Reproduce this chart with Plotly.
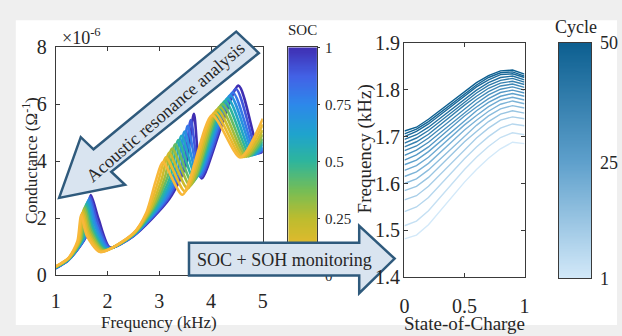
import plotly.graph_objects as go
from plotly.colors import sample_colorscale

W, H = 622, 336
def fx(p): return p / W
def fy(p): return 1 - p / H

FONT = "Times New Roman, Liberation Serif, DejaVu Serif, serif"
TXT = "#262626"

# ---------------- left panel: conductance (x1e-6 S) vs frequency (kHz) ----------------
SOC_LEVELS = [0.0, 0.1, 0.2, 0.3, 0.4, 0.5, 0.6, 0.7, 0.8, 0.9, 1.0]
START_F, EARLY_F, MID_F, END_F = 1.0, 1.25, 2.5, 5.0
START_V = [0.32, 0.31, 0.30, 0.30, 0.29, 0.28, 0.28, 0.27, 0.26, 0.26, 0.25]
EARLY_V = [0.62, 0.61, 0.60, 0.59, 0.58, 0.57, 0.56, 0.56, 0.55, 0.55, 0.54]
PRE1_F = [1.42, 1.44, 1.46, 1.48, 1.50, 1.52, 1.54, 1.56, 1.58, 1.595, 1.61]
PRE1_V = [1.20, 1.20, 1.22, 1.25, 1.28, 1.30, 1.33, 1.36, 1.40, 1.42, 1.45]
PK1_F = [1.49, 1.51, 1.53, 1.55, 1.57, 1.59, 1.61, 1.63, 1.65, 1.665, 1.68]
PK1_V = [2.13, 2.20, 2.27, 2.35, 2.42, 2.50, 2.57, 2.64, 2.70, 2.76, 2.82]
POST1_F = [1.60, 1.62, 1.64, 1.66, 1.68, 1.70, 1.72, 1.75, 1.77, 1.80, 1.83]
POST1_V = [1.40, 1.45, 1.50, 1.56, 1.62, 1.68, 1.74, 1.80, 1.86, 1.91, 1.97]
MN1_F = [1.86, 1.88, 1.90, 1.92, 1.94, 1.96, 1.98, 2.00, 2.02, 2.04, 2.05]
MN1_V = [0.82, 0.84, 0.86, 0.88, 0.90, 0.91, 0.93, 0.94, 0.96, 0.97, 0.98]
MID_V = [1.48, 1.47, 1.46, 1.45, 1.44, 1.43, 1.42, 1.41, 1.40, 1.39, 1.38]
RISE2A_F = [2.75, 2.78, 2.82, 2.86, 2.90, 2.95, 3.00, 3.05, 3.10, 3.15, 3.20]
RISE2A_V = [2.20, 2.25, 2.30, 2.35, 2.40, 2.45, 2.50, 2.55, 2.60, 2.65, 2.70]
RISE2B_F = [2.93, 2.99, 3.05, 3.11, 3.17, 3.23, 3.29, 3.35, 3.41, 3.47, 3.52]
RISE2B_V = [3.30, 3.35, 3.40, 3.45, 3.50, 3.55, 3.60, 3.65, 3.70, 3.80, 3.90]
PK2_F = [3.07, 3.13, 3.19, 3.25, 3.31, 3.37, 3.43, 3.49, 3.55, 3.61, 3.67]
PK2_V = [3.98, 4.15, 4.30, 4.45, 4.60, 4.75, 4.90, 5.05, 5.25, 5.45, 5.67]
MN2_F = [3.45, 3.50, 3.55, 3.60, 3.64, 3.68, 3.72, 3.75, 3.78, 3.80, 3.82]
MN2_V = [2.83, 2.95, 3.05, 3.15, 3.25, 3.35, 3.45, 3.50, 3.50, 3.45, 3.40]
PK3_F = [4.02, 4.07, 4.12, 4.17, 4.22, 4.27, 4.32, 4.37, 4.42, 4.48, 4.53]
PK3_V = [5.62, 5.72, 5.82, 5.92, 6.02, 6.12, 6.22, 6.32, 6.42, 6.54, 6.66]
MN3_F = [4.56, 4.60, 4.64, 4.68, 4.72, 4.76, 4.80, 4.84, 4.87, 4.90, 4.93]
MN3_V = [4.14, 4.15, 4.16, 4.17, 4.18, 4.20, 4.22, 4.24, 4.26, 4.28, 4.30]
END_V = [5.50, 5.30, 5.10, 4.95, 4.80, 4.70, 4.60, 4.50, 4.45, 4.40, 4.35]

X1_TICKS = [1, 2, 3, 4, 5]
Y1_TICKS = [0, 2, 4, 6, 8]

SOC_COLORSCALE = [[0.0, "#f8b83a"], [0.12, "#e6b92c"], [0.25, "#bcbc2e"], [0.37, "#76bd55"],
                  [0.5, "#2eb59c"], [0.62, "#1fa3cd"], [0.75, "#2d88ea"], [0.87, "#4262e6"],
                  [1.0, "#3f2eb2"]]
SOC_CB_TICKS = [0, 0.25, 0.5, 0.75, 1]
SOC_CB_TEXT = ["0", "0.25", "0.5", "0.75", "1"]

# ---------------- right panel: resonance frequency (kHz) vs SOC per cycle ----------------
SOC_GRID = [0.0, 0.1, 0.2, 0.3, 0.4, 0.5, 0.6, 0.7, 0.8, 0.9, 1.0]
CYCLES = [1, 4, 7, 10, 13, 16, 19, 22, 25, 28, 31, 34, 37, 40, 43, 46, 48, 50]
FREQ_CURVES = [
    [1.482, 1.490, 1.512, 1.542, 1.573, 1.603, 1.630, 1.654, 1.674, 1.688, 1.685],
    [1.510, 1.520, 1.542, 1.571, 1.601, 1.630, 1.656, 1.679, 1.698, 1.708, 1.704],
    [1.540, 1.550, 1.570, 1.598, 1.626, 1.653, 1.678, 1.700, 1.718, 1.727, 1.723],
    [1.565, 1.574, 1.594, 1.620, 1.647, 1.673, 1.697, 1.718, 1.735, 1.742, 1.738],
    [1.585, 1.594, 1.613, 1.638, 1.664, 1.689, 1.711, 1.732, 1.748, 1.755, 1.750],
    [1.600, 1.610, 1.629, 1.653, 1.678, 1.702, 1.724, 1.744, 1.759, 1.766, 1.761],
    [1.615, 1.625, 1.643, 1.667, 1.691, 1.714, 1.735, 1.754, 1.769, 1.776, 1.770],
    [1.628, 1.638, 1.656, 1.679, 1.702, 1.725, 1.745, 1.764, 1.778, 1.784, 1.778],
    [1.640, 1.650, 1.668, 1.690, 1.713, 1.735, 1.755, 1.773, 1.786, 1.792, 1.786],
    [1.650, 1.661, 1.678, 1.700, 1.722, 1.744, 1.763, 1.781, 1.794, 1.799, 1.793],
    [1.660, 1.671, 1.688, 1.709, 1.731, 1.752, 1.771, 1.789, 1.801, 1.806, 1.799],
    [1.670, 1.680, 1.697, 1.718, 1.739, 1.760, 1.779, 1.796, 1.808, 1.812, 1.805],
    [1.678, 1.689, 1.705, 1.726, 1.747, 1.767, 1.786, 1.803, 1.814, 1.818, 1.811],
    [1.686, 1.697, 1.713, 1.733, 1.754, 1.774, 1.793, 1.809, 1.820, 1.824, 1.816],
    [1.694, 1.704, 1.720, 1.740, 1.761, 1.781, 1.799, 1.815, 1.826, 1.829, 1.821],
    [1.700, 1.711, 1.727, 1.747, 1.767, 1.787, 1.806, 1.821, 1.832, 1.834, 1.826],
    [1.706, 1.716, 1.732, 1.752, 1.772, 1.792, 1.810, 1.826, 1.836, 1.838, 1.829],
    [1.712, 1.720, 1.737, 1.757, 1.777, 1.797, 1.815, 1.830, 1.840, 1.842, 1.833],
]
X2_TICKS = [0, 0.5, 1]
X2_TEXT = ["0", "0.5", "1"]
Y2_TICKS = [1.4, 1.5, 1.6, 1.7, 1.8, 1.9]
CYCLE_COLORSCALE = [[0.0, "#d3e9f9"], [0.5, "#5d9fcb"], [1.0, "#0c5f90"]]
CYC_CB_TICKS = [1, 25, 50]

fig = go.Figure()

# left curves (SOC=1 first, SOC=0 last on top)
for i in reversed(range(len(SOC_LEVELS))):
    xs = [START_F, EARLY_F, PRE1_F[i], PK1_F[i], POST1_F[i], MN1_F[i], MID_F,
          RISE2A_F[i], RISE2B_F[i], PK2_F[i], MN2_F[i], PK3_F[i], MN3_F[i], END_F]
    ys = [START_V[i], EARLY_V[i], PRE1_V[i], PK1_V[i], POST1_V[i], MN1_V[i], MID_V[i],
          RISE2A_V[i], RISE2B_V[i], PK2_V[i], MN2_V[i], PK3_V[i], MN3_V[i], END_V[i]]
    col = sample_colorscale(SOC_COLORSCALE, [SOC_LEVELS[i]])[0]
    fig.add_trace(go.Scatter(x=xs, y=ys, mode="lines", xaxis="x", yaxis="y",
                             line=dict(color=col, width=2.6, shape="spline", smoothing=0.7),
                             showlegend=False, hoverinfo="skip"))

# right curves
for c, ys in zip(CYCLES, FREQ_CURVES):
    col = sample_colorscale(CYCLE_COLORSCALE, [(c - 1) / 49])[0]
    fig.add_trace(go.Scatter(x=SOC_GRID, y=ys, mode="lines", xaxis="x2", yaxis="y2",
                             line=dict(color=col, width=1.4),
                             showlegend=False, hoverinfo="skip"))

# colorbar gradients as heatmaps (so the arrow can cover them)
grad_soc = [k / 200 for k in range(201)]
fig.add_trace(go.Heatmap(z=[[v, v] for v in grad_soc], x=[0, 1], y=grad_soc,
                         colorscale=SOC_COLORSCALE, zmin=0, zmax=1, showscale=False,
                         xaxis="x3", yaxis="y3", hoverinfo="skip"))
grad_cyc = [1 + 49 * k / 200 for k in range(201)]
fig.add_trace(go.Heatmap(z=[[v, v] for v in grad_cyc], x=[0, 1], y=grad_cyc,
                         colorscale=CYCLE_COLORSCALE, zmin=1, zmax=50, showscale=False,
                         xaxis="x4", yaxis="y4", hoverinfo="skip"))

LINE = "#3a3a3a"
ax_common = dict(showline=True, linecolor=LINE, linewidth=1, mirror="ticks", ticks="inside",
                 ticklen=4, tickcolor=LINE, showgrid=False, zeroline=False,
                 tickfont=dict(family=FONT, size=20, color=TXT))
ax_nofont = {k: v for k, v in ax_common.items() if k != "tickfont"}

fig.update_layout(
    width=W, height=H, margin=dict(l=0, r=0, t=0, b=0),
    paper_bgcolor="#efefef", plot_bgcolor="white",
    font=dict(family=FONT, color=TXT),
    xaxis=dict(domain=[fx(51.5), fx(262)], range=[1, 5], tickvals=X1_TICKS, anchor="y",
               ticklabelstandoff=8, **ax_common),
    yaxis=dict(domain=[fy(283), fy(39)], range=[0, 8], tickvals=Y1_TICKS, anchor="x",
               ticklabelstandoff=4, **ax_common),
    xaxis2=dict(domain=[fx(406), fx(528)], range=[0, 1], tickvals=X2_TICKS, ticktext=X2_TEXT,
                anchor="y2", ticklabelstandoff=11, **ax_common),
    yaxis2=dict(domain=[fy(285), fy(34)], range=[1.4, 1.9], tickvals=Y2_TICKS, anchor="x2",
                showticklabels=False, **ax_nofont),
    xaxis3=dict(domain=[fx(288), fx(317)], range=[0, 1], anchor="y3", showticklabels=False,
                ticks="", showline=True, mirror=True, linecolor=LINE, linewidth=1,
                showgrid=False, zeroline=False),
    yaxis3=dict(domain=[fy(283), fy(39)], range=[0, 1], anchor="x3", side="right",
                tickvals=SOC_CB_TICKS, ticktext=SOC_CB_TEXT, ticks="outside", ticklen=2,
                tickcolor=LINE, showline=True, mirror=True, linecolor=LINE, linewidth=1,
                showgrid=False, zeroline=False, ticklabelstandoff=2,
                tickfont=dict(family=FONT, size=15, color=TXT)),
    xaxis4=dict(domain=[fx(563), fx(596)], range=[0, 1], anchor="y4", showticklabels=False,
                ticks="", showline=True, mirror=True, linecolor=LINE, linewidth=1,
                showgrid=False, zeroline=False),
    yaxis4=dict(domain=[fy(286), fy(34)], range=[1, 50], anchor="x4", side="right",
                tickvals=CYC_CB_TICKS, ticks="", showline=True, mirror=True, linecolor=LINE,
                linewidth=1, showgrid=False, zeroline=False, ticklabelstandoff=4,
                tickfont=dict(family=FONT, size=18, color=TXT)),
)

# background panel
shapes = [dict(type="rect", xref="paper", yref="paper", x0=fx(11), x1=1, y0=0, y1=fy(10),
               fillcolor="white", line=dict(width=0), layer="below")]

def poly(points):
    return "M " + " L ".join(f"{fx(a):.5f},{fy(b):.5f}" for a, b in points) + " Z"

ARROW_FILL = "#d9e4f0"
ARROW_LINE = "#2f5a7c"
arrow1 = [(55, 200), (77, 135), (90, 148), (235, 22), (258, 45), (108, 172), (122, 186)]
arrow2 = [(187, 248), (360, 248), (360, 230), (396, 265), (360, 302), (360, 283), (187, 283)]
for pts in (arrow1, arrow2):
    shapes.append(dict(type="path", xref="paper", yref="paper", path=poly(pts),
                       fillcolor=ARROW_FILL, line=dict(color=ARROW_LINE, width=2.5),
                       layer="above"))
fig.update_layout(shapes=shapes)

ann = []
def label(x, y, text, size, angle=0, xanchor="center", yanchor="middle", yref="paper", yval=None):
    ann.append(dict(x=fx(x), y=(fy(y) if yval is None else yval), xref="paper", yref=yref,
                    text=text, showarrow=False, textangle=angle, xanchor=xanchor,
                    yanchor=yanchor, borderpad=0,
                    font=dict(family=FONT, size=size, color=TXT)))

label(157, 322, "Frequency (kHz)", 17, yanchor="top")
label(25, 160, "Conductance (Ω<sup>-1</sup>)", 17, angle=-90)
label(78, 27, "×10<sup>-6</sup>", 18)
label(302, 20, "SOC", 15)
label(467, 322, "State-of-Charge", 19, yanchor="top")
label(366, 148, "Frequency (kHz)", 19, angle=-90)
label(580, 17, "Cycle", 18)
for v in Y2_TICKS:
    label(402, 0, f"{v:.1f}", 20, xanchor="right", yref="y2", yval=v)
label(163, 108, "Acoustic resonance analysis", 18, angle=-41)
label(284, 266, "SOC + SOH monitoring", 18)
fig.update_layout(annotations=ann)

fig.write_html("out.html")
